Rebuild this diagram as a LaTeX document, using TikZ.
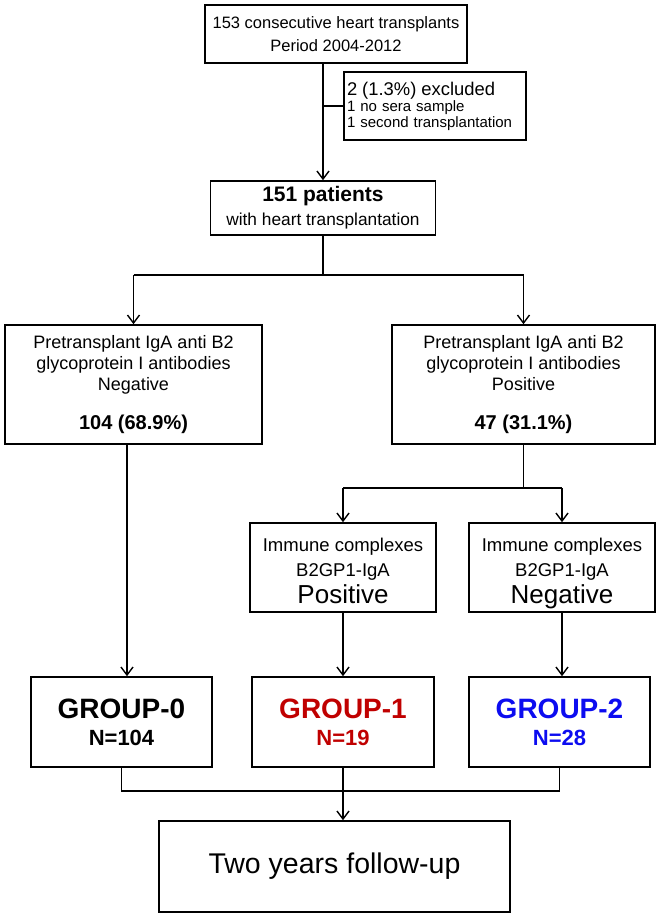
\documentclass[tikz,border=0pt]{standalone}
\usepackage{fontspec}
\setmainfont{Liberation Sans}
\usepackage{tikz}
\usetikzlibrary{arrows, arrows.meta}
\definecolor{groupred}{RGB}{192,0,0}
\definecolor{groupblue}{RGB}{12,12,240}
\tikzstyle{Box}=[draw=black, line width=1.6pt, fill=white, inner sep=0pt, align=center, text=black]
\tikzstyle{arrow}=[line width=1.5pt, >={Straight Barb[length=8pt, width=12pt, line width=1.4pt]}]
\pgfdeclarelayer{nodelayer}
\pgfdeclarelayer{edgelayer}
\pgfsetlayers{main, nodelayer, edgelayer}

\begin{document}
\begin{tikzpicture}[x=1pt, y=-1pt]
	\useasboundingbox (0,0) rectangle (661,916);
	\begin{pgfonlayer}{nodelayer}
		\node [style=Box, minimum width=262pt, minimum height=58pt, font=\fontsize{16.5}{23}\selectfont] (transplants) at (336, 34) {153 consecutive heart transplants\\Period 2004-2012};
		\node [style=Box, minimum width=182pt, minimum height=68pt, text width=176pt, align=left, font=\fontsize{15}{16}\selectfont] (excluded) at (435, 106) {{\fontsize{18.4}{18}\selectfont 2 (1.3\%) excluded}\\1 no sera sample\\1 second transplantation};
		\node [style=Box, minimum width=225pt, minimum height=54pt, font=\fontsize{17.3}{24}\selectfont] (patients) at (323, 208) {{\fontsize{21}{24}\selectfont\bfseries 151 patients}\\with heart transplantation};
		% antibodies
		\node [style=Box, minimum width=257pt, minimum height=119pt, font=\fontsize{18}{21}\selectfont] (neg_antibodies) at (133.5, 384.5) {Pretransplant IgA anti B2\\glycoprotein I antibodies\\Negative\\[18pt]{\fontsize{20}{22}\selectfont\bfseries 104 (68.9\%)}};
		\node [style=Box, minimum width=263pt, minimum height=119pt, font=\fontsize{18}{21}\selectfont] (pos_antibodies) at (523.5, 384.5) {Pretransplant IgA anti B2\\glycoprotein I antibodies\\Positive\\[18pt]{\fontsize{20}{22}\selectfont\bfseries 47 (31.1\%)}};
		% immune complexes
		\node [style=Box, minimum width=186pt, minimum height=89pt, font=\fontsize{18.5}{25}\selectfont] (ic_positive) at (343, 567.5) {\rule{0pt}{28pt}Immune complexes\\B2GP1-IgA\\[2pt]{\fontsize{26}{26}\selectfont Positive\strut}};
		\node [style=Box, minimum width=186pt, minimum height=89pt, font=\fontsize{18.5}{25}\selectfont] (ic_negative) at (562, 567.5) {\rule{0pt}{28pt}Immune complexes\\B2GP1-IgA\\[2pt]{\fontsize{26}{26}\selectfont Negative\strut}};
		% groups
		\node [style=Box, minimum width=181pt, minimum height=90pt, font=\fontsize{28}{29}\selectfont\bfseries] (group_zero) at (121.5, 722) {GROUP-0\\[-2pt]{\fontsize{22}{29}\selectfont N=104}};
		\node [style=Box, minimum width=182pt, minimum height=90pt, font=\fontsize{28}{29}\selectfont\bfseries, text=groupred] (group_one) at (343, 722) {GROUP-1\\[-2pt]{\fontsize{22}{29}\selectfont N=19}};
		\node [style=Box, minimum width=181pt, minimum height=90pt, font=\fontsize{28}{29}\selectfont\bfseries, text=groupblue] (group_two) at (559.5, 722) {GROUP-2\\[-2pt]{\fontsize{22}{29}\selectfont N=28}};
		\node [style=Box, minimum width=351pt, minimum height=91pt, font=\fontsize{28.5}{30}\selectfont] (follow_up) at (334.5, 866.5) {Two years follow-up};
	\end{pgfonlayer}
	\coordinate (first_split) at (323, 275);
	\coordinate (left_drop) at (127, 0);
	\coordinate (second_split) at (523.5, 488);
	\coordinate (join) at (343, 791);
	\begin{pgfonlayer}{edgelayer}
		\draw [->, style=arrow] (transplants.south -| patients) to (patients);
		\draw [style=arrow] (excluded.west -| patients) to (excluded.west);
		\draw [style=arrow] (patients) to (first_split);
		\draw [style=arrow] (neg_antibodies |- first_split) to (pos_antibodies |- first_split);
		\draw [->, style=arrow] (neg_antibodies |- first_split) to (neg_antibodies);
		\draw [->, style=arrow] (pos_antibodies |- first_split) to (pos_antibodies);
		\draw [->, style=arrow] (left_drop |- neg_antibodies.south) to (left_drop |- group_zero.north);
		% positive branch
		\draw [style=arrow] (pos_antibodies) to (second_split);
		\draw [style=arrow] (ic_positive |- second_split) to (ic_negative |- second_split);
		\draw [->, style=arrow] (ic_positive |- second_split) to (ic_positive);
		\draw [->, style=arrow] (ic_negative |- second_split) to (ic_negative);
		\draw [->, style=arrow] (ic_positive) to (ic_positive |- group_one.north);
		\draw [->, style=arrow] (ic_negative) to (ic_negative |- group_two.north);
		% follow-up
		\draw [style=arrow] (group_zero) to (group_zero |- join) to (group_two |- join) to (group_two);
		\draw [style=arrow] (group_one) to (join);
		\draw [->, style=arrow] (join) to (join |- follow_up.north);
	\end{pgfonlayer}
\end{tikzpicture}
\end{document}
